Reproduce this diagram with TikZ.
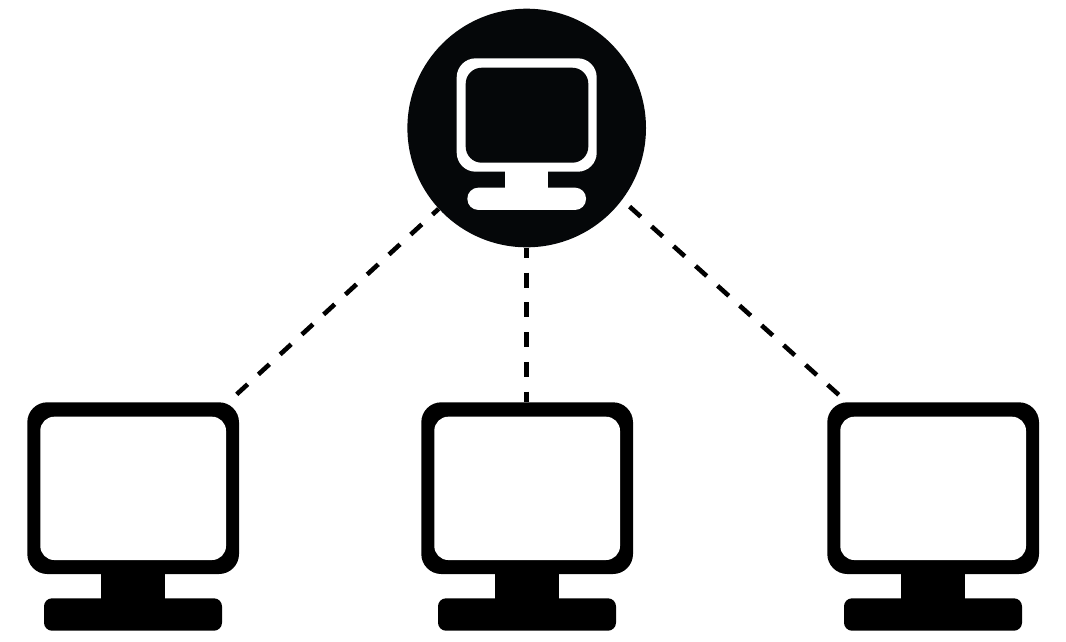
\documentclass[tikz,border=0pt]{standalone}
\usetikzlibrary{backgrounds}
\definecolor{ink}{RGB}{5,7,9}
\tikzset{
  x=1pt,y=-1pt,
  frame/.style={fill=black,rounded corners=20pt,inner sep=0pt,minimum width=211.7pt,minimum height=171.7pt},
  glass/.style={fill=white,rounded corners=14pt,inner sep=0pt,minimum width=185.7pt,minimum height=143.3pt},
  neck/.style={fill=black,inner sep=0pt,minimum width=64.6pt,minimum height=26pt},
  foot/.style={fill=black,rounded corners=8pt,inner sep=0pt,minimum width=178pt,minimum height=32.4pt},
  hub/.style={circle,fill=ink,inner sep=0pt,minimum size=238.6pt},
  hubframe/.style={fill=white,rounded corners=19pt,inner sep=0pt,minimum width=140pt,minimum height=113.4pt},
  hubglass/.style={fill=ink,rounded corners=16pt,inner sep=0pt,minimum width=122.6pt,minimum height=95pt},
  hubneck/.style={fill=white,inner sep=0pt,minimum width=43pt,minimum height=18pt},
  hubfoot/.style={fill=white,rounded corners=11pt,inner sep=0pt,minimum width=118.7pt,minimum height=22.3pt},
  link/.style={draw=black,line width=4.6pt},
}
\begin{document}
\begin{tikzpicture}
\useasboundingbox (0,0) rectangle (1066,641);
\node[hub] (server) at (526.7,128) {};
\node[hubneck] (sneck) at (526.8,180) {};
\node[hubfoot] (sfoot) at (526.7,198.8) {};
\node[hubframe] (sframe) at (526.7,115) {};
\node[hubglass] (sglass) at (527,115.2) {};
\foreach \n/\dx in {a/0,b/394,c/800}{
  \node[neck] (\n neck) at (133+\dx,586) {};
  \node[foot] (\n foot) at (133+\dx,614.5) {};
  \node[frame] (\n frame) at (133.15+\dx,488.15) {};
  \node[glass] (\n glass) at (133.15+\dx,488.35) {};
}
\coordinate (ta) at (236.7,394.3);
\coordinate (tc) at (839,395);
\begin{scope}[on background layer]
\draw[link,dash pattern=on 15pt off 14.55pt,dash phase=6.6pt] (server) -- (ta);
\draw[link,dash pattern=on 15pt off 14.8pt,dash phase=4.8pt] (server.south) -- (bframe.north-|server.south);
\draw[link,dash pattern=on 15pt off 14.6pt,dash phase=19.6pt] (server.-37.1) -- (tc);
\end{scope}
\end{tikzpicture}
\end{document}
